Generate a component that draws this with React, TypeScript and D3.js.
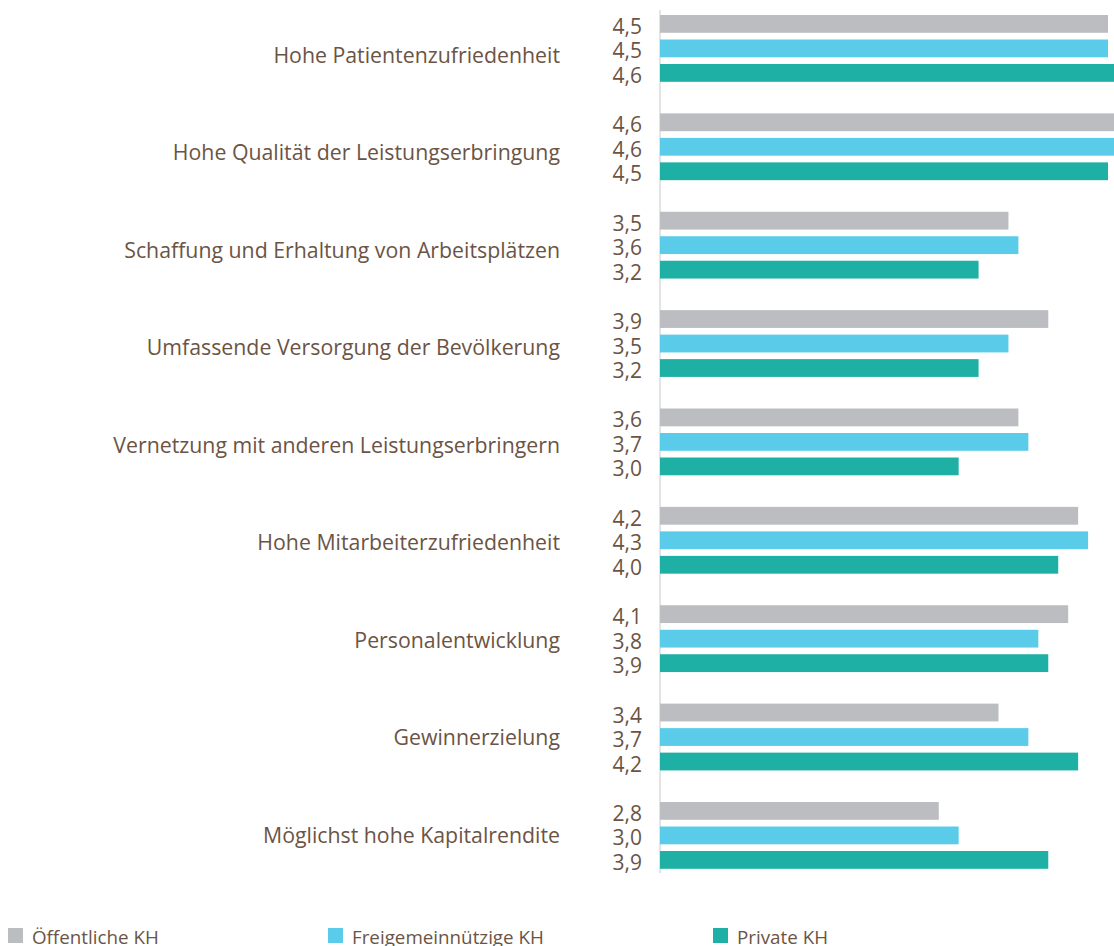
import React from "react";
import * as d3 from "d3";

const categories = [
  "Hohe Patientenzufriedenheit",
  "Hohe Qualität der Leistungserbringung",
  "Schaffung und Erhaltung von Arbeitsplätzen",
  "Umfassende Versorgung der Bevölkerung",
  "Vernetzung mit anderen Leistungserbringern",
  "Hohe Mitarbeiterzufriedenheit",
  "Personalentwicklung",
  "Gewinnerzielung",
  "Möglichst hohe Kapitalrendite",
];
const oeffentlich = [4.5, 4.6, 3.5, 3.9, 3.6, 4.2, 4.1, 3.4, 2.8];
const freigemeinnuetzig = [4.5, 4.6, 3.6, 3.5, 3.7, 4.3, 3.8, 3.7, 3.0];
const privat = [4.6, 4.5, 3.2, 3.2, 3.0, 4.0, 3.9, 4.2, 3.9];
const seriesNames = ["Öffentliche KH", "Freigemeinnützige KH", "Private KH"];
const seriesColors = ["#bcbdc1", "#5bcbea", "#1fb0a5"];

const W = 1114;
const H = 946;
const textColor = "#6b5445";
const font = "'Open Sans', sans-serif";

export default function App() {
  const series = [oeffentlich, freigemeinnuetzig, privat];
  const x = d3.scaleLinear().domain([0, 4.5]).range([660, 1108]);
  const y0 = d3
    .scaleBand<string>()
    .domain(categories)
    .range([15, 15 + 98.375 * 9])
    .paddingInner(0)
    .paddingOuter(0);
  const y1 = d3.scaleBand<number>().domain([0, 1, 2]).range([0, 73.5]);
  const labelY = d3.scalePoint<string>().domain(categories).range([62.5, 843]);
  const barH = 17.8;
  const fmt = (v: number) => d3.format(".1f")(v).replace(".", ",");
  const legendX = [8, 328, 713];

  return (
    <svg
      width={W}
      height={H}
      style={{ position: "absolute", left: 0, top: 0, background: "#fff" }}
      fontFamily={font}
    >
      <line x1={660} x2={660} y1={10} y2={873} stroke="#c8c8c8" strokeWidth={1} />
      {categories.map((c, i) => {
        const gy = y0(c)!;
        return (
          <g key={c}>
            <text x={560} y={labelY(c)!} textAnchor="end" fontSize={21.3} fill={textColor}>
              {c}
            </text>
            {series.map((s, j) => {
              const by = gy + y1(j)!;
              return (
                <g key={j}>
                  <rect x={x(0)} y={by} width={x(s[i]) - x(0)} height={barH} fill={seriesColors[j]} />
                  <text
                    x={642}
                    y={by + barH / 2 + 2}
                    textAnchor="end"
                    dominantBaseline="central"
                    fontSize={21}
                    fill={textColor}
                  >
                    {fmt(s[i])}
                  </text>
                </g>
              );
            })}
          </g>
        );
      })}
      {seriesNames.map((n, j) => (
        <g key={n}>
          <rect x={legendX[j]} y={928} width={15} height={15} fill={seriesColors[j]} />
          <text x={legendX[j] + 24} y={944} fontSize={18.8} fill={textColor}>
            {n}
          </text>
        </g>
      ))}
    </svg>
  );
}
